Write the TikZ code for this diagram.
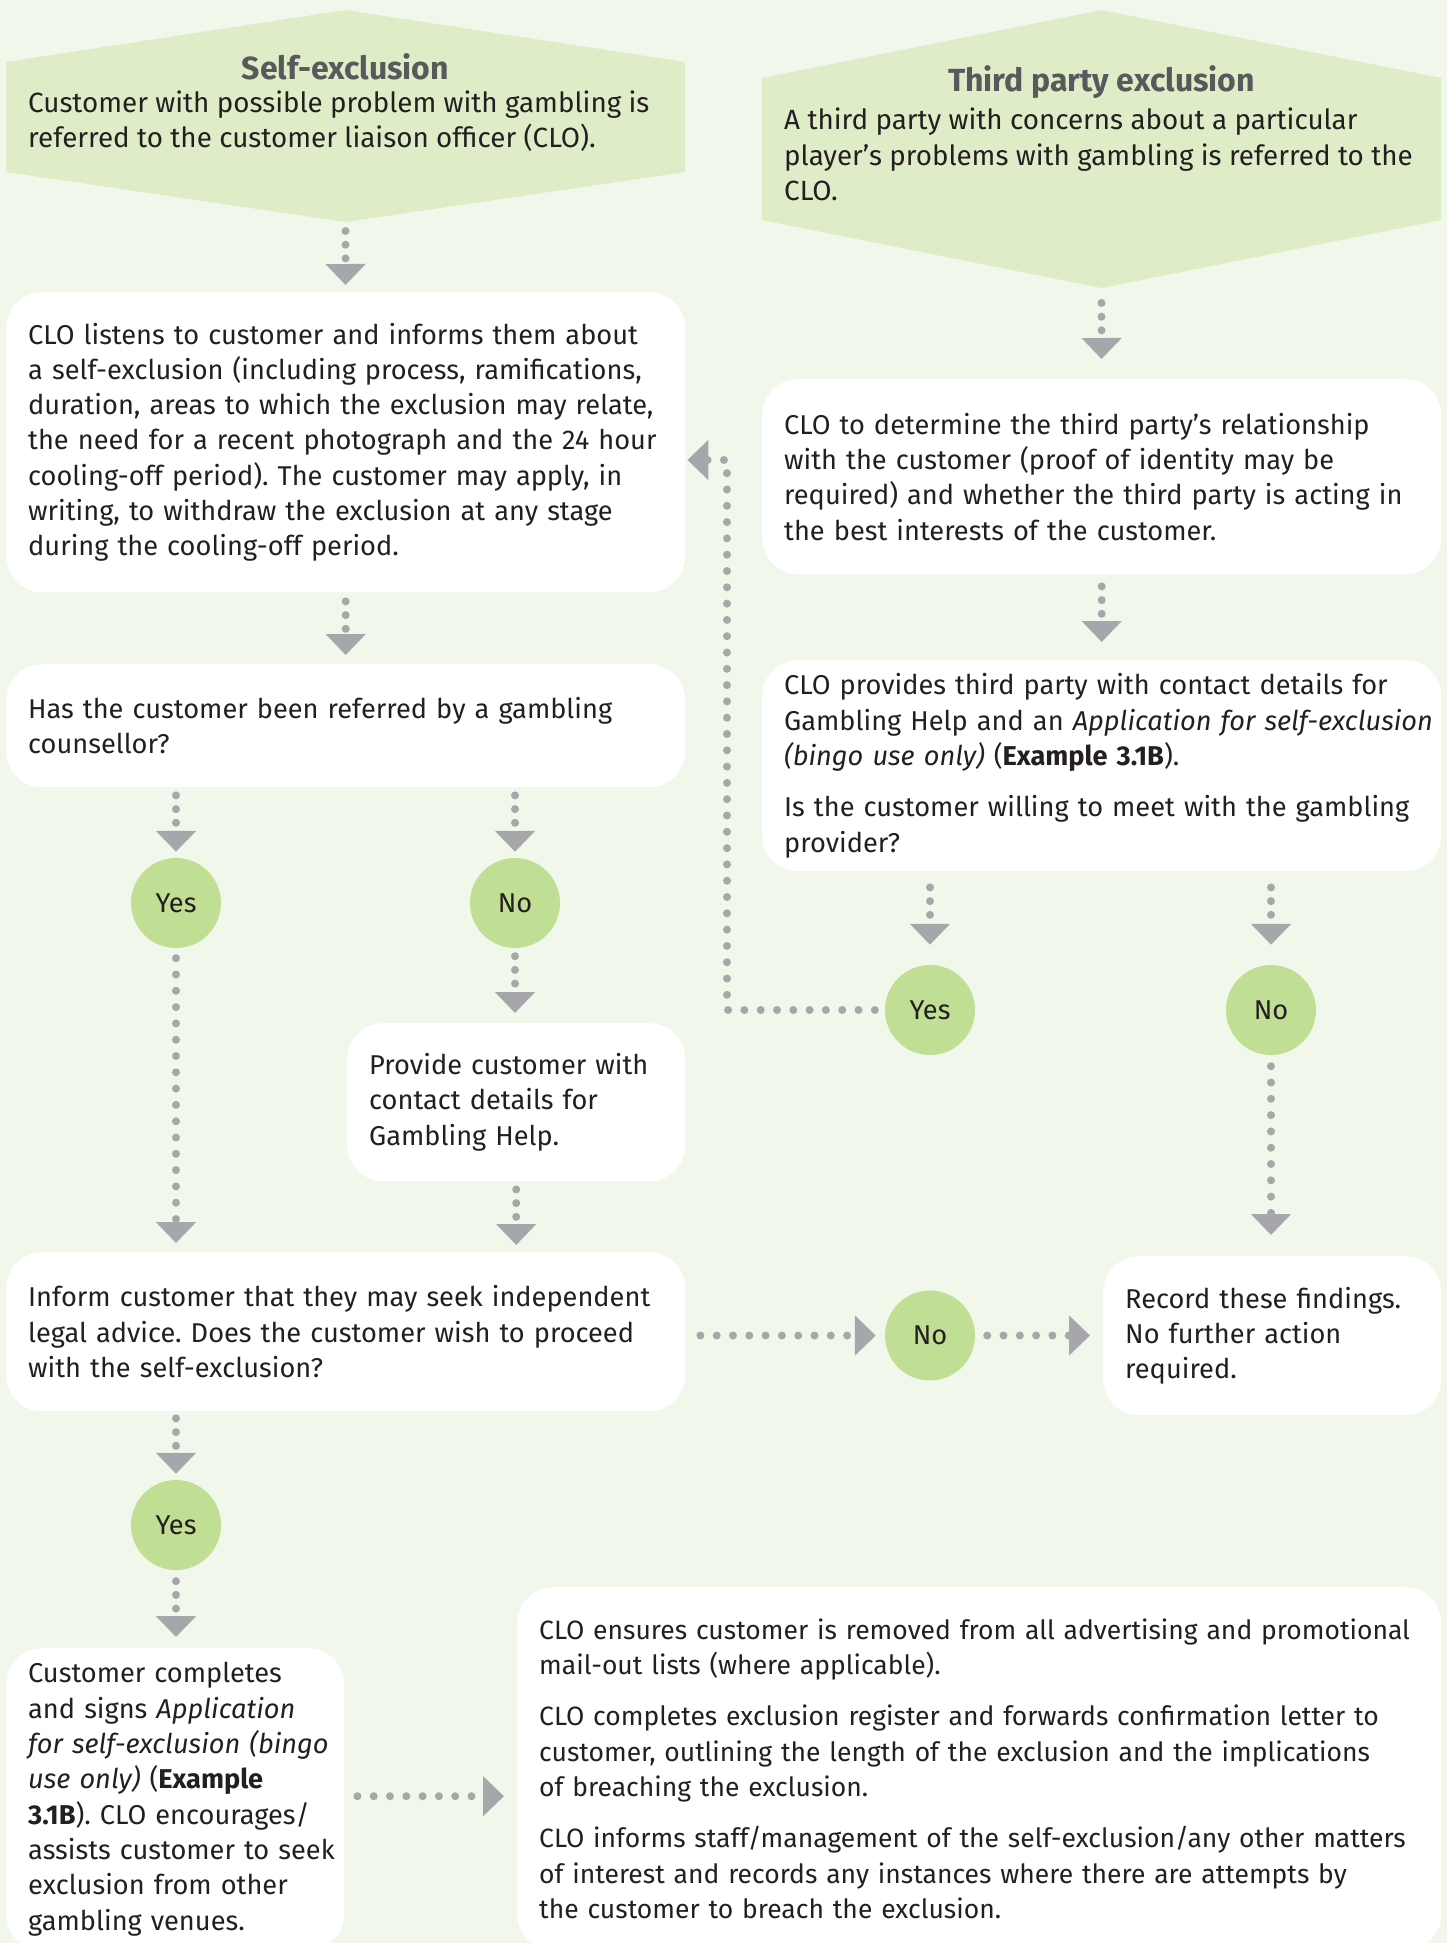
\documentclass[tikz,border=0pt]{standalone}
\usepackage{fontspec}
\setmainfont{Fira Sans}
\usetikzlibrary{arrows.meta}
\frenchspacing
\definecolor{bgc}{HTML}{F2F7EB}
\definecolor{hexc}{HTML}{DFECC8}
\definecolor{circc}{HTML}{C1DE95}
\definecolor{arrc}{HTML}{A6A7AB}
\definecolor{txtc}{HTML}{231F20}
\definecolor{ttlc}{HTML}{58595B}
\newcommand\bodyfont{\fontsize{27.2pt}{35.3pt}\selectfont\frenchspacing}
\newcommand\headfont{\fontsize{27.8pt}{35.3pt}\selectfont\frenchspacing}
\newcommand\smallbodyfont{\fontsize{26.5pt}{35.3pt}\selectfont\frenchspacing}
\newcommand\titlefont{\fontsize{32pt}{38pt}\selectfont\bfseries}
\newcommand\lne[1]{\mbox{#1}}
\begin{document}
\begin{tikzpicture}[x=1pt,y=-1pt,
 every node/.style={text=txtc},
 box/.style={fill=white, rounded corners=36pt, anchor=north west, inner xsep=22pt, inner ysep=0pt, align=left, font=\bodyfont},
 dec/.style={circle, fill=circc, minimum size=90pt, inner sep=0pt, font=\bodyfont},
 plain/.style={inner sep=0pt, align=left, font=\headfont},
 title/.style={inner sep=0pt, font=\titlefont, text=ttlc},
 conn/.style={draw=arrc, line width=8pt, line cap=round, dash pattern=on 0pt off 13.7pt, -{Triangle[width=39pt,length=21pt]}},
 connlong/.style={conn, dash pattern=on 0pt off 16.3pt},
]
\fill[bgc] (0,0) rectangle (1447,1943);
\useasboundingbox (0,0) rectangle (1447,1943);

% header hexagons
\fill[hexc] (6,62) -- (345.5,10) -- (685,62) -- (685,172) -- (345.5,222) -- (6,172) -- cycle;
\coordinate (h1b) at (345.5,222);
\node[title] (h1t) at (345.5,67) {Self-exclusion};
\node[plain, anchor=west] (h1x) at (28,121.5) {Customer with possible problem with gambling is\\referred to the customer liaison officer (CLO).};

\fill[hexc] (762,78) -- (1101.5,10) -- (1441,78) -- (1441,220) -- (1101.5,288) -- (762,220) -- cycle;
\coordinate (h2b) at (1101.5,288);
\node[title] (h2t) at (1101.5,82) {Third party exclusion};
\node[plain, anchor=west] (h2x) at (784,154.5) {A third party with concerns about a particular\\player’s problems with gambling is referred to the\\CLO.};

% left column boxes
\node[box, minimum width=679pt, text width=635pt, minimum height=300pt] (b2) at (6,292) {%
\lne{CLO listens to customer and informs them about}\\
\lne{a self-exclusion (including process, ramifications,}\\
\lne{duration, areas to which the exclusion may relate,}\\
\lne{the need for a recent photograph and the 24 hour}\\
\lne{cooling-off period). The customer may apply, in}\\
\lne{writing, to withdraw the exclusion at any stage}\\
\lne{during the cooling-off period.}};

\node[box, minimum width=679pt, text width=635pt, minimum height=123pt] (b3) at (6,664) {%
\lne{Has the customer been referred by a gambling}\\
\lne{counsellor?}};

\node[dec] (y1) at (176,903) {Yes};
\node[dec] (n1) at (515,903) {No};

\node[box, minimum width=338pt, text width=294pt, minimum height=158pt] (b4) at (347,1023) {%
\lne{Provide customer with}\\
\lne{contact details for}\\
\lne{Gambling Help.}};

\node[box, minimum width=679pt, text width=635pt, minimum height=159pt] (b5) at (6,1252) {%
\lne{Inform customer that they may seek independent}\\
\lne{legal advice. Does the customer wish to proceed}\\
\lne{with the self-exclusion?}};

\node[dec] (y2) at (176,1525) {Yes};
\node[dec] (n3) at (930,1335.5) {No};

\node[box, minimum width=338pt, text width=294pt, minimum height=159pt] (rec) at (1103,1256) {%
\lne{Record these findings.}\\
\lne{No further action}\\
\lne{required.}};

\node[box, minimum width=338pt, text width=294pt, minimum height=302pt] (b6) at (6,1648) {%
\lne{Customer completes}\\
\lne{and signs \textit{Application}}\\
\lne{\textit{for self-exclusion (bingo}}\\
\lne{\textit{use only)} (\textbf{Example}}\\
\lne{\textbf{3.1B}). CLO encourages/}\\
\lne{assists customer to seek}\\
\lne{exclusion from other}\\
\lne{gambling venues.}};

\node[box, font=\smallbodyfont, minimum width=924pt, text width=880pt, minimum height=363pt] (b7) at (517,1587) {%
\lne{CLO ensures customer is removed from all advertising and promotional}\\
\lne{mail-out lists (where applicable).}\\[16pt]
\lne{CLO completes exclusion register and forwards confirmation letter to}\\
\lne{customer, outlining the length of the exclusion and the implications}\\
\lne{of breaching the exclusion.}\\[16pt]
\lne{CLO informs staff/management of the self-exclusion/any other matters}\\
\lne{of interest and records any instances where there are attempts by}\\
\lne{the customer to breach the exclusion.}};

% right column boxes
\node[box, minimum width=679pt, text width=635pt, minimum height=195pt] (t1) at (762,379) {%
\lne{CLO to determine the third party’s relationship}\\
\lne{with the customer (proof of identity may be}\\
\lne{required) and whether the third party is acting in}\\
\lne{the best interests of the customer.}};

\node[box, minimum width=679pt, text width=635pt, minimum height=211pt] (t2) at (762,660) {%
\lne{CLO provides third party with contact details for}\\
\lne{Gambling Help and an \textit{Application for self-exclusion}}\\
\lne{\textit{(bingo use only)} (\textbf{Example 3.1B}).}\\[16pt]
\lne{Is the customer willing to meet with the gambling}\\
\lne{provider?}};

\node[dec] (y3) at (930,1010) {Yes};
\node[dec] (n2) at (1271,1010) {No};

% connectors
\draw[conn, shorten <=9pt, shorten >=7pt] (h1b) -- (b2);
\draw[conn, shorten <=9pt, shorten >=9pt] (b2) -- (b3);
\draw[conn, shorten <=8pt, shorten >=6pt] (b3.south -| y1) -- (y1);
\draw[conn, shorten <=8pt, shorten >=6pt] (b3.south -| n1) -- (n1);
\draw[connlong, shorten <=10pt, shorten >=9pt] (y1) -- (y1 |- b5.north);
\draw[conn, shorten <=8pt, shorten >=10pt] (n1) -- (n1 |- b4.north);
\draw[conn, shorten <=8pt, shorten >=7pt] (b4) -- (b4 |- b5.north);
\draw[connlong, shorten <=15pt, shorten >=9pt] (b5.east |- n3) -- (n3);
\draw[connlong, shorten <=12pt, shorten >=13pt] (n3) -- (n3 -| rec.west);
\draw[conn, shorten <=7pt, shorten >=6pt] (b5.south -| y2) -- (y2);
\draw[conn, shorten <=11pt, shorten >=11pt] (y2) -- (y2 |- b6.north);
\draw[connlong, shorten <=13pt, shorten >=13pt] ([yshift=3pt]b6.east) -- ([yshift=3pt]b6.east -| b7.west);

\draw[conn, shorten <=15pt, shorten >=20pt] (h2b) -- (t1);
\draw[conn, shorten <=12pt, shorten >=18pt] (t1) -- (t2);
\draw[conn, shorten <=16pt, shorten >=20pt] (t2.south -| y3) -- (y3);
\draw[conn, shorten <=16pt, shorten >=20pt] (t2.south -| n2) -- (n2);
\draw[connlong, shorten <=11pt, shorten >=21pt] (n2) -- (n2 |- rec.north);
\coordinate (loopc) at (727,460);
\draw[connlong, shorten <=10pt, shorten >=2pt] (y3) -| (loopc) -- (b2.east |- loopc);
\end{tikzpicture}
\end{document}
